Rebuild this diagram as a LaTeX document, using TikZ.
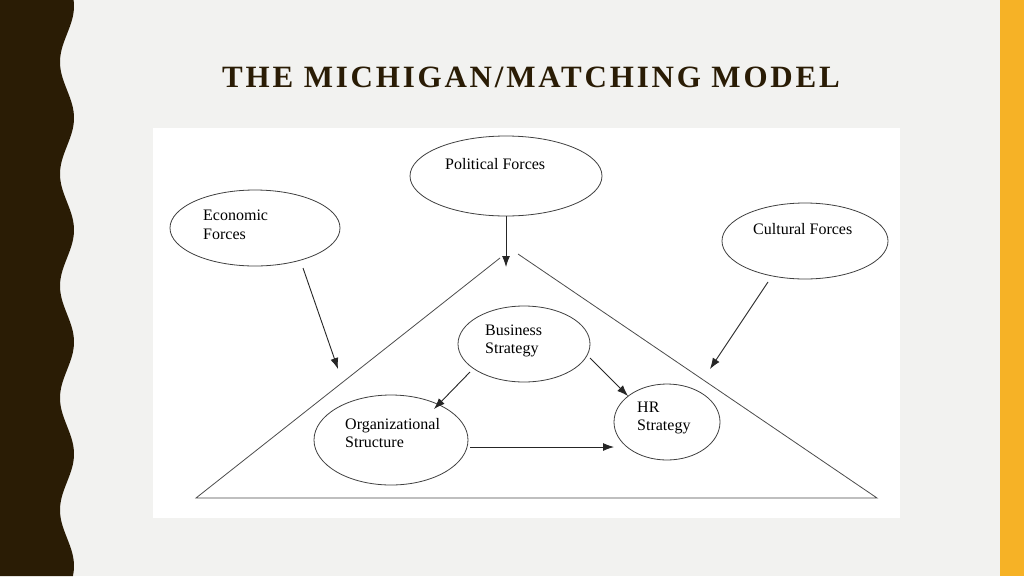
\documentclass[tikz,border=0pt]{standalone}
\usepackage{fontspec}
\setmainfont{Liberation Serif}
\newfontfamily\titlefont[LetterSpace=9]{Liberation Serif}
\usetikzlibrary{shapes.geometric,arrows.meta}
\definecolor{bg}{HTML}{F2F2F0}
\definecolor{darkb}{HTML}{2A1C05}
\definecolor{orng}{HTML}{F6B226}
\tikzset{
  oval/.style={ellipse,draw=black!75,line width=0.8pt,fill=white},
  lbl/.style={font=\fontsize{16}{18.5}\selectfont,align=left,anchor=west,inner sep=0pt},
  arr/.style={-{Latex[length=11pt,width=8pt]},line width=0.9pt,draw=black!85},
  tri/.style={line width=0.8pt,draw=black!70}
}
\begin{document}
\begin{tikzpicture}[x=1pt,y=-1pt]
\useasboundingbox (0,0) rectangle (1024,576);
\fill[bg] (0,0) rectangle (1024,576);
\fill[orng] (1000,0) rectangle (1024,576);
\fill[darkb] (0,0) -- plot[domain=0:576,samples=120,smooth] ({67-7*cos(3.2143*(\x+50))},\x) -- (0,576) -- cycle;
\node[font=\titlefont\bfseries\fontsize{31}{33}\selectfont,text=darkb] (title) at (531,77) {THE MICHIGAN/MATCHING MODEL};
\fill[white] (153,128) rectangle (900,518);
% triangle
\coordinate (tl) at (196,498); \coordinate (tr) at (877,498);
\coordinate (ta) at (500,258); \coordinate (tb) at (518,254);
\draw[tri] (tb) -- (tr) -- (tl) -- (ta);
% ellipses
\node[oval,minimum width=192pt,minimum height=80pt] (pol) at (506,176) {};
\node[oval,minimum width=170pt,minimum height=76pt] (eco) at (255,228) {};
\node[oval,minimum width=166pt,minimum height=76pt] (cul) at (805,241) {};
\node[oval,minimum width=132pt,minimum height=76pt] (bus) at (524,344) {};
\node[oval,minimum width=154pt,minimum height=90pt] (org) at (391,440) {};
\node[oval,minimum width=106pt,minimum height=76pt] (hr) at (667,422) {};
\node[lbl] (tpol) at (445,164) {Political Forces};
\node[lbl] (teco) at (203,225) {Economic\\Forces};
\node[lbl] (tcul) at (753,229) {Cultural Forces};
\node[lbl] (tbus) at (485,341) {Business\\Strategy};
\node[lbl] (torg) at (345,433) {Organizational\\Structure};
\node[lbl] (thr) at (637,418) {HR\\Strategy};
% arrows
\coordinate (p1) at (506,267);
\coordinate (e0) at (303,268); \coordinate (e1) at (338,369);
\coordinate (c0) at (768,282); \coordinate (c1) at (710,369);
\coordinate (b0) at (470,372); \coordinate (b1) at (434,409);
\coordinate (h0) at (590,358); \coordinate (h1) at (628,396);
\coordinate (o0) at (470,447); \coordinate (o1) at (614,447);
\draw[arr] (pol.south) -- (p1);
\draw[arr] (e0) -- (e1);
\draw[arr] (c0) -- (c1);
\draw[arr] (b0) -- (b1);
\draw[arr] (h0) -- (h1);
\draw[arr] (o0) -- (o1);
\end{tikzpicture}
\end{document}
